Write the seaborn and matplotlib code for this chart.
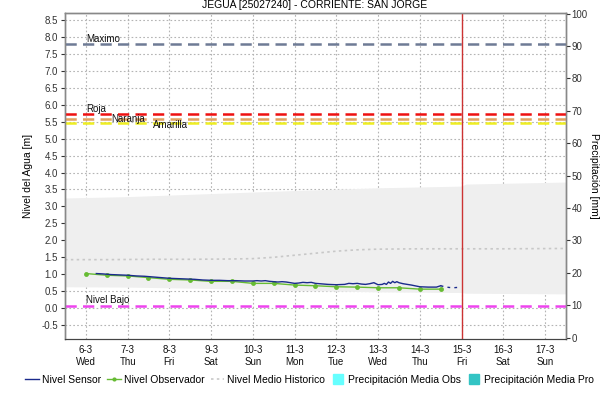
import numpy as np
import pandas as pd
import matplotlib
matplotlib.use("Agg")
import matplotlib.pyplot as plt
import seaborn as sns
from matplotlib.lines import Line2D

# dias (numero de dia de marzo)
dias = [6, 7, 8, 9, 10, 11, 12, 13, 14, 15, 16, 17]
dias_semana = ["Wed", "Thu", "Fri", "Sat", "Sun", "Mon", "Tue", "Wed", "Thu", "Fri", "Sat", "Sun"]

# umbrales
umbral_nombres = ["Maximo", "Roja", "Naranja", "Amarilla", "Nivel Bajo"]
umbral_valores = [7.78, 5.72, 5.59, 5.45, 0.07]
umbral_colores = ["#6e7b95", "#ee1111", "#e0a060", "#eeee22", "#ee44ee"]
umbral_texto_x = [6.0, 6.0, 6.6, 7.6, 6.0]

# nivel sensor
sensor_dia = [6.25, 6.4, 6.6, 6.8, 7.0, 7.2, 7.4, 7.6, 7.8, 8.0, 8.2, 8.4, 8.6, 8.8,
              9.0, 9.2, 9.4, 9.6, 9.8, 10.0, 10.1, 10.2, 10.3, 10.4, 10.5, 10.6,
              10.7, 10.8, 10.9, 11.0, 11.1, 11.2, 11.3, 11.4, 11.5, 11.6, 11.8,
              12.0, 12.2, 12.3, 12.4, 12.5, 12.6, 12.7, 12.8, 12.9, 13.0, 13.1,
              13.15, 13.2, 13.25, 13.3, 13.35, 13.4, 13.45, 13.5, 13.6, 13.7,
              13.8, 14.0, 14.2, 14.4, 14.5]
sensor_nivel = [1.02, 1.01, 0.99, 0.98, 0.97, 0.95, 0.94, 0.92, 0.90, 0.88, 0.87, 0.86,
                0.85, 0.83, 0.82, 0.82, 0.81, 0.81, 0.80, 0.80, 0.81, 0.80, 0.81, 0.79,
                0.78, 0.77, 0.78, 0.77, 0.75, 0.73, 0.74, 0.76, 0.75, 0.76, 0.73,
                0.72, 0.70, 0.69, 0.70, 0.73, 0.72, 0.73, 0.71, 0.70, 0.72, 0.75,
                0.69, 0.70, 0.73, 0.70, 0.77, 0.73, 0.79, 0.75, 0.78, 0.75, 0.72,
                0.70, 0.68, 0.63, 0.62, 0.62, 0.66]
sensor_fin_dia = [14.5, 14.6, 14.7, 14.8, 14.9, 14.95]
sensor_fin_nivel = [0.66, 0.63, 0.61, 0.60, 0.61, 0.64]

# nivel observador
obs_dia = [6.0, 6.5, 7.0, 7.5, 8.0, 8.5, 9.0, 9.5, 10.0, 10.5, 11.0, 11.5,
           12.0, 12.5, 13.0, 13.5, 14.0, 14.5]
obs_nivel = [1.02, 0.97, 0.95, 0.90, 0.85, 0.83, 0.79, 0.79, 0.73, 0.73, 0.68, 0.66,
             0.63, 0.62, 0.60, 0.60, 0.56, 0.56]

# nivel medio historico y banda
hist_dia = [5.5, 6.5, 7.5, 8.5, 9.5, 10.0, 10.5, 11.0, 11.5, 12.0, 12.5, 13.0, 14.0, 15.0, 16.0, 17.5]
hist_medio = [1.43, 1.43, 1.44, 1.44, 1.45, 1.46, 1.50, 1.56, 1.62, 1.68, 1.72, 1.74, 1.75, 1.75, 1.75, 1.76]
banda_dia = [5.5, 7.0, 9.0, 11.0, 13.0, 15.0, 15.1, 17.5]
banda_max = [3.25, 3.29, 3.38, 3.47, 3.55, 3.60, 3.66, 3.72]
banda_min = [0.63, 0.62, 0.58, 0.52, 0.48, 0.46, 0.44, 0.42]

dia_actual = 15

plt.rcParams['font.family'] = ['Liberation Sans', 'DejaVu Sans']
fig = plt.figure(figsize=(6.02, 4.04), dpi=100)
ax = fig.add_axes([0.108, 0.161, 0.832, 0.807])
ax2 = ax.twinx()

ax.fill_between(banda_dia, banda_min, banda_max, color="#efefef", lw=0, zorder=1)

df_hist = pd.DataFrame({"dia": hist_dia, "nivel": hist_medio})
sns.lineplot(data=df_hist, x="dia", y="nivel", ax=ax, color="#c8c8c8", lw=1.2,
             linestyle=(0, (1.5, 2)), zorder=2)

for nombre, val, col, tx in zip(umbral_nombres, umbral_valores, umbral_colores, umbral_texto_x):
    ax.axhline(val, color=col, lw=1.8, dashes=(4.5, 2.5), zorder=3)
    va = "bottom"
    dy = 0.02
    if nombre == "Naranja":
        va, dy = "center", 0.0
    if nombre == "Amarilla":
        va, dy = "center", -0.06
    ax.text(tx, val + dy, nombre, fontsize=7, va=va, ha="left", color="#111111", zorder=6)

df_obs = pd.DataFrame({"dia": obs_dia, "nivel": obs_nivel})
sns.lineplot(data=df_obs, x="dia", y="nivel", ax=ax, color="#66bb33", lw=1,
             marker="o", markersize=3.5, markeredgewidth=0, zorder=4)

df_sen = pd.DataFrame({"dia": sensor_dia, "nivel": sensor_nivel})
sns.lineplot(data=df_sen, x="dia", y="nivel", ax=ax, color="#1a2a8c", lw=1, zorder=5)
df_fin = pd.DataFrame({"dia": sensor_fin_dia, "nivel": sensor_fin_nivel})
sns.lineplot(data=df_fin, x="dia", y="nivel", ax=ax, color="#1a2a8c", lw=1,
             linestyle=(0, (2, 3)), zorder=5)

ax.axvline(dia_actual, color="#cc3333", lw=1, zorder=6)

ax.set_xlim(5.5, 17.5)
ax.set_ylim(-0.91, 8.71)
ax2.set_ylim(-0.4, 100.2)
ax.set_xticks(dias)
ax.set_xticklabels([f"{d}-3\n{s}" for d, s in zip(dias, dias_semana)], fontsize=7, linespacing=1.3)
ax.set_yticks(np.arange(-0.5, 8.51, 0.5))
ax.set_yticklabels([f"{v:.1f}" for v in np.arange(-0.5, 8.51, 0.5)], fontsize=7)
ax2.set_yticks(np.arange(0, 101, 10))
ax2.tick_params(axis="y", labelsize=7, length=3, width=0.8, colors="#333333", pad=1)
ax.tick_params(axis="y", length=3, width=0.8, colors="#333333", pad=2)
ax.tick_params(axis="x", length=0, pad=4, colors="#111111")
ax.grid(True, color="#b4b4b4", lw=0.8, linestyle=(0, (1.5, 2)))
ax.set_axisbelow(True)
ax.set_xlabel("")
ax.set_ylabel("Nivel del Agua [m]", fontsize=7.5, labelpad=6)
ax2.set_ylabel("Precipitación [mm]", fontsize=7.5, rotation=270, labelpad=8)

for a in (ax, ax2):
    for s in ("left", "right", "top"):
        a.spines[s].set_color("#888888")
        a.spines[s].set_linewidth(1)
    a.spines["bottom"].set_color("#444444")
    a.spines["bottom"].set_linestyle((0, (1, 1)))

fig.text(0.522, 0.999, "JEGUA [25027240] - CORRIENTE: SAN JORGE", ha="center", va="top",
         fontsize=7.5)

handles = [
    Line2D([], [], color="#1a2a8c", lw=1),
    Line2D([], [], color="#66bb33", lw=1, marker="o", markersize=3, markeredgewidth=0),
    Line2D([], [], color="#c8c8c8", lw=1.2, linestyle=(0, (1.5, 2))),
    Line2D([], [], color="#66ffff", marker="s", linestyle="none", markersize=7),
    Line2D([], [], color="#33c4c4", marker="s", linestyle="none", markersize=7),
]
labels = ["Nivel Sensor", "Nivel Observador", "Nivel Medio Historico",
          "Precipitación Media Obs", "Precipitación Media Pro"]
fig.legend(handles, labels, loc="center left", bbox_to_anchor=(0.035, 0.06), ncol=5,
           frameon=False, fontsize=7.5, handlelength=1.3, handletextpad=0.3,
           columnspacing=0.6, borderaxespad=0)

fig.savefig("out.png", dpi=100)
